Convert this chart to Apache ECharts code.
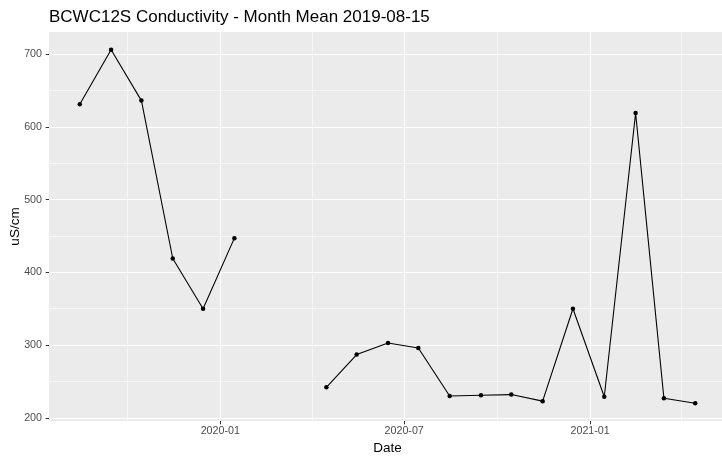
<!DOCTYPE html>
<html>
<head>
<meta charset="utf-8">
<script src="https://cdn.jsdelivr.net/npm/echarts@6/dist/echarts.min.js"></script>
<style>
html,body{margin:0;padding:0;background:#fff;}
#chart{width:722px;height:458px;}
</style>
</head>
<body>
<div id="chart"></div>
<script>
// ---- data ----
var dates = ['2019-08-15','2019-09-15','2019-10-15','2019-11-15','2019-12-15','2020-01-15',
             '2020-02-15','2020-03-15','2020-04-15','2020-05-15','2020-06-15','2020-07-15',
             '2020-08-15','2020-09-15','2020-10-15','2020-11-15','2020-12-15','2021-01-15',
             '2021-02-15','2021-03-15','2021-04-15'];
var conductivity = [631, 706, 636, 419, 350, 447,
                    null, null, 242, 287, 303, 296,
                    230, 231, 232, 223, 350, 229,
                    619, 227, 220];
var yMajorTicks = [200, 300, 400, 500, 600, 700];
var yMinorTicks = [250, 350, 450, 550, 650];
var xMajorTicks = ['2020-01-01', '2020-07-01', '2021-01-01'];
var xMinorTicks = ['2019-10-01', '2020-04-01', '2020-10-01', '2021-04-01'];

function ts(s){ var p = s.split('-'); return Date.UTC(+p[0], +p[1]-1, +p[2]); }
function fmt(v){ var d = new Date(v); var m = d.getUTCMonth()+1; return d.getUTCFullYear() + '-' + (m<10?'0':'') + m; }

var seriesData = dates.map(function(d, i){ return [ts(d), conductivity[i]]; });
var xFirst = ts(dates[0]), xLast = ts(dates[dates.length-1]);
var xPad = (xLast - xFirst) * 0.05;
var xMin = xFirst - xPad, xMax = xLast + xPad;
var yMin = 195.7, yMax = 730.3;

var FONT = '"Liberation Sans", Arial, Helvetica, sans-serif';

var chart = echarts.init(document.getElementById('chart'), null, {renderer: 'canvas'});
chart.setOption({
  animation: false,
  backgroundColor: '#ffffff',
  title: {
    text: 'BCWC12S Conductivity - Month Mean 2019-08-15',
    left: 44, top: 4,
    textStyle: {fontFamily: FONT, fontSize: 17, fontWeight: 'normal', color: '#000'}
  },
  grid: {
    left: 49, right: -4, top: 32, bottom: 37,
    containLabel: false, outerBoundsMode: 'none',
    show: true, backgroundColor: '#EBEBEB', borderWidth: 0
  },
  xAxis: {
    type: 'value', min: xMin, max: xMax,
    name: 'Date', nameLocation: 'middle', nameGap: 20,
    nameTextStyle: {fontFamily: FONT, fontSize: 13.5, color: '#000'},
    axisLine: {show: false},
    axisTick: {show: true, length: 3.3, lineStyle: {color: '#333333', width: 1}, customValues: xMajorTicks.map(ts)},
    axisLabel: {fontFamily: FONT, fontSize: 10.7, color: '#4D4D4D', margin: 4.5, customValues: xMajorTicks.map(ts), formatter: function(v){ return fmt(v); }},
    splitLine: {show: false}
  },
  yAxis: {
    type: 'value', min: yMin, max: yMax,
    name: 'uS/cm', nameLocation: 'middle', nameGap: 27, nameRotate: 90, nameMoveOverlap: false,
    nameTextStyle: {fontFamily: FONT, fontSize: 13.5, color: '#000'},
    axisLine: {show: false},
    axisTick: {show: true, length: 3.3, lineStyle: {color: '#333333', width: 1}, customValues: yMajorTicks},
    axisLabel: {fontFamily: FONT, fontSize: 10.7, color: '#4D4D4D', margin: 7, customValues: yMajorTicks},
    splitLine: {show: false}
  },
  series: [
    {
      type: 'line', data: seriesData, z: 1, silent: true,
      symbol: 'none', lineStyle: {opacity: 0}, connectNulls: false,
      markLine: {
        silent: true, symbol: 'none', label: {show: false}, animation: false,
        data: []
          .concat(yMinorTicks.map(function(v){ return {yAxis: v, lineStyle: {color: '#fff', width: 0.55, type: 'solid'}}; }))
          .concat(xMinorTicks.map(function(v){ return {xAxis: ts(v), lineStyle: {color: '#fff', width: 0.55, type: 'solid'}}; }))
          .concat(yMajorTicks.map(function(v){ return {yAxis: v, lineStyle: {color: '#fff', width: 1.1, type: 'solid'}}; }))
          .concat(xMajorTicks.map(function(v){ return {xAxis: ts(v), lineStyle: {color: '#fff', width: 1.1, type: 'solid'}}; }))
      }
    },
    {
      type: 'line', data: seriesData, z: 5,
      connectNulls: false,
      symbol: 'circle', symbolSize: 4.5, showAllSymbol: true,
      itemStyle: {color: '#000'},
      lineStyle: {color: '#000', width: 1.1}
    }
  ]
});
</script>
</body>
</html>
